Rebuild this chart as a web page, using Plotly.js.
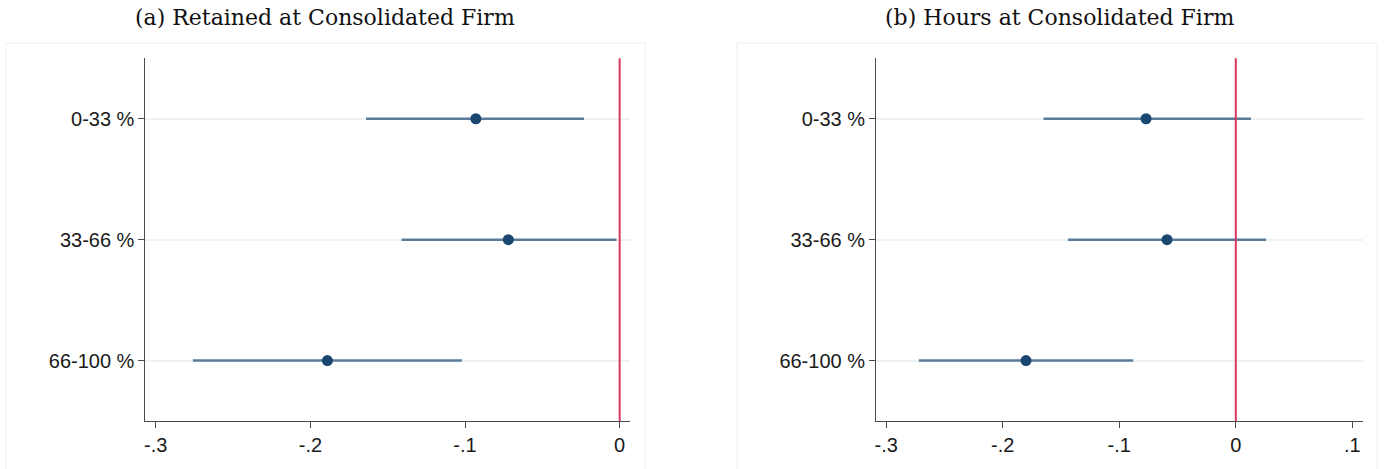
<!DOCTYPE html>
<html>
<head>
<meta charset="utf-8">
<script src="https://cdn.plot.ly/plotly-3.0.1.min.js"></script>
<style>html,body{margin:0;padding:0;background:#fff;}#chart{width:1384px;height:469px;}</style>
</head>
<body>
<div id="chart"></div>
<script>
// Categories (share of workforce)
const categories = ['0-33 %', '33-66 %', '66-100 %'];

// Panel (a): Retained at Consolidated Firm
const retainedCoef = [-0.093, -0.072, -0.189];
const retainedLow  = [-0.164, -0.141, -0.276];
const retainedHigh = [-0.023, -0.002, -0.102];

// Panel (b): Hours at Consolidated Firm
const hoursCoef = [-0.077, -0.059, -0.180];
const hoursLow  = [-0.165, -0.144, -0.272];
const hoursHigh = [0.013, 0.026, -0.088];

// Tick labels
const ticksA = [-0.3, -0.2, -0.1, 0];
const tickTextA = ['-.3', '-.2', '-.1', '0'];
const ticksB = [-0.3, -0.2, -0.1, 0, 0.1];
const tickTextB = ['-.3', '-.2', '-.1', '0', '.1'];

const titles = ['(a) Retained at Consolidated Firm', '(b) Hours at Consolidated Firm'];

const W = 1384, H = 469;
const ciColor = '#5a7c9b';
const ptColor = '#1a476f';
const refColor = '#d8365f';

function trace(coef, lo, hi, xa, ya) {
  return {
    type: 'scatter', mode: 'markers',
    x: coef, y: categories, xaxis: xa, yaxis: ya,
    marker: {color: ptColor, size: 11},
    error_x: {
      type: 'data', symmetric: false,
      array: hi.map((h, i) => h - coef[i]),
      arrayminus: lo.map((l, i) => coef[i] - l),
      width: 0, thickness: 2.5, color: ciColor
    },
    hoverinfo: 'x+y'
  };
}

const data = [
  trace(retainedCoef, retainedLow, retainedHigh, 'x', 'y'),
  trace(hoursCoef, hoursLow, hoursHigh, 'x2', 'y2')
];

const tickFont = {family: '"Liberation Sans", Arial, sans-serif', size: 20, color: '#1a1a1a'};
const yDom = [1 - 421 / H, 1 - 58.3 / H];

function xAxis(dom, range, vals, text, anchor) {
  return {
    domain: dom, range: range, anchor: anchor,
    tickmode: 'array', tickvals: vals, ticktext: text,
    showline: true, linecolor: '#4a4a4a', linewidth: 1,
    ticks: 'outside', ticklen: 6, tickcolor: '#4a4a4a', tickwidth: 1,
    showgrid: false, zeroline: false, tickfont: tickFont, fixedrange: true
  };
}
function yAxis(anchor) {
  return {
    domain: yDom, anchor: anchor, type: 'category',
    categoryorder: 'array', categoryarray: categories,
    range: [2.5, -0.5],
    showline: true, linecolor: '#4a4a4a', linewidth: 1,
    ticks: 'outside', ticklen: 6, tickcolor: '#4a4a4a', tickwidth: 1,
    showgrid: true, gridcolor: '#edf2f3', gridwidth: 2,
    zeroline: false, tickfont: tickFont, fixedrange: true
  };
}

const frameColor = '#eeeeee';
const titleFont = {family: '"DejaVu Serif", "Liberation Serif", serif', size: 22, color: '#111'};
const layout = {
  width: W, height: H,
  margin: {l: 0, r: 0, t: 0, b: 0},
  paper_bgcolor: '#ffffff', plot_bgcolor: '#ffffff',
  showlegend: false,
  xaxis: xAxis([145.4 / W, 630 / W], [-0.3067, 0.0067], ticksA, tickTextA, 'y'),
  yaxis: yAxis('x'),
  xaxis2: xAxis([876 / W, 1362.5 / W], [-0.3087, 0.1087], ticksB, tickTextB, 'y2'),
  yaxis2: yAxis('x2'),
  shapes: [
    {type: 'rect', xref: 'paper', yref: 'paper', x0: 6 / W, x1: 645 / W, y0: -0.05, y1: 1 - 43 / H,
     line: {color: frameColor, width: 1}, fillcolor: 'rgba(0,0,0,0)', layer: 'below'},
    {type: 'rect', xref: 'paper', yref: 'paper', x0: 737 / W, x1: 1377 / W, y0: -0.05, y1: 1 - 43 / H,
     line: {color: frameColor, width: 1}, fillcolor: 'rgba(0,0,0,0)', layer: 'below'},
    {type: 'line', xref: 'x', yref: 'y domain', x0: 0, x1: 0, y0: 0, y1: 1,
     line: {color: refColor, width: 2}, layer: 'above'},
    {type: 'line', xref: 'x2', yref: 'y2 domain', x0: 0, x1: 0, y0: 0, y1: 1,
     line: {color: refColor, width: 2}, layer: 'above'}
  ],
  annotations: [
    {text: titles[0], xref: 'paper', yref: 'paper', x: 324.5 / W, y: 1 - 18 / H,
     xanchor: 'center', yanchor: 'middle', showarrow: false, font: titleFont},
    {text: titles[1], xref: 'paper', yref: 'paper', x: 1059 / W, y: 1 - 18 / H,
     xanchor: 'center', yanchor: 'middle', showarrow: false, font: titleFont}
  ]
};

Plotly.newPlot('chart', data, layout, {displayModeBar: false, staticPlot: true});
</script>
</body>
</html>
